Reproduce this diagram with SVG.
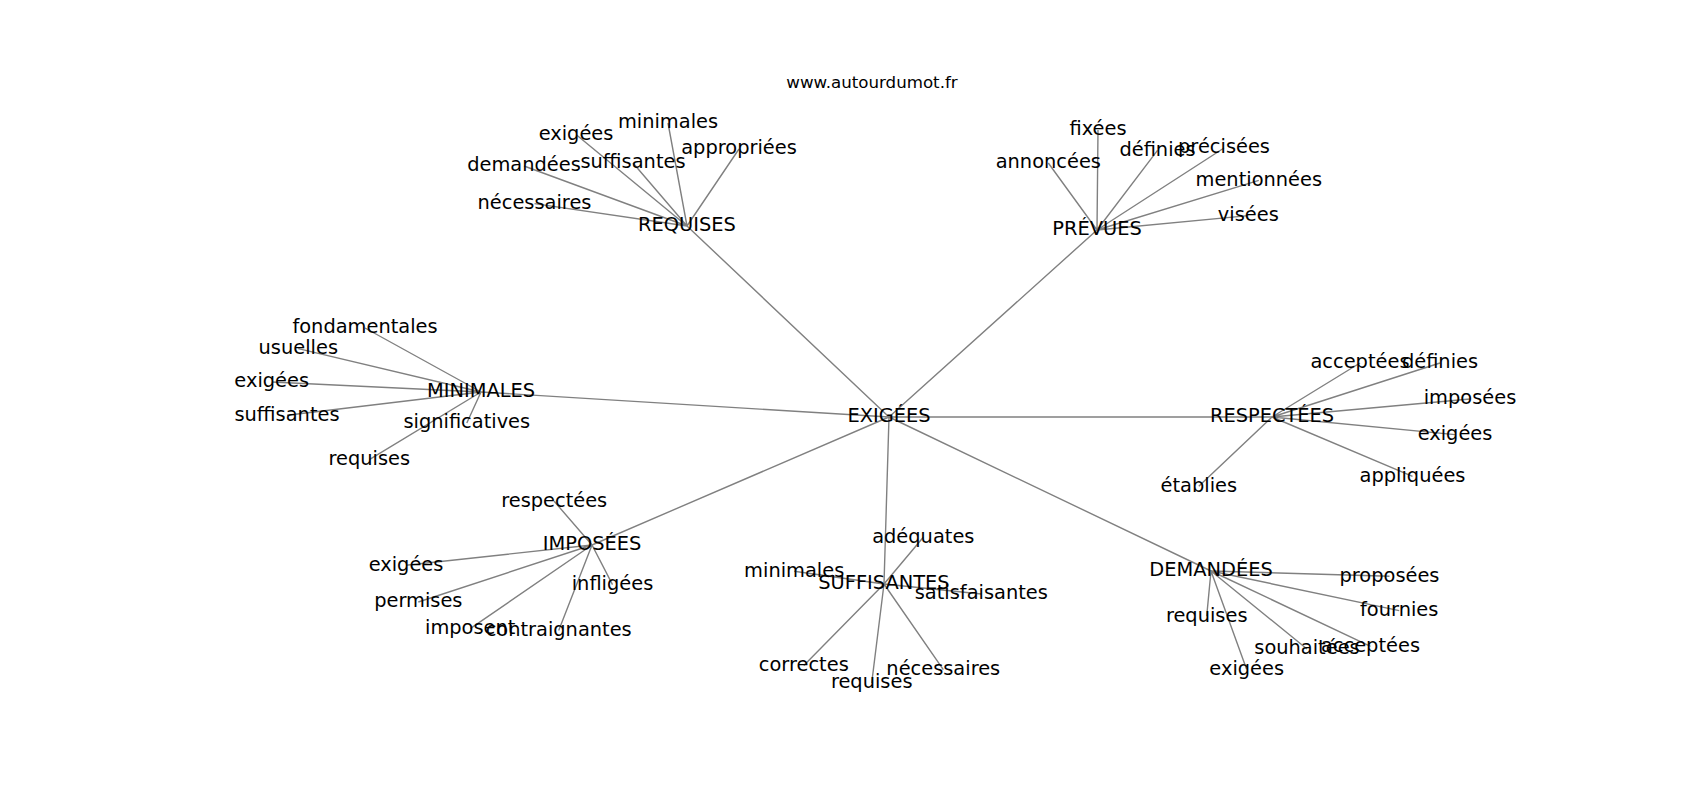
<svg xmlns="http://www.w3.org/2000/svg" width="1700" height="800" viewBox="0 0 1700 800">
<style>
.e{stroke:#808080;stroke-width:1.4;fill:none}
text{font-family:"DejaVu Sans","Liberation Sans",sans-serif;font-size:19.4px;fill:#000;text-anchor:middle}
.t{font-size:16.67px}
</style>
<rect width="1700" height="800" fill="#fff"/>
<text class="t" x="872" y="88.3">www.autourdumot.fr</text>
<g id="edges">
<path class="e" d="M889,417L687,226M889,417L1097,230M889,417L481,392M889,417L1272,417M889,417L592,545M889,417L884,584M889,417L1211,571"/>
<path class="e" d="M687,226L576,134.5M687,226L668,123M687,226L739,149M687,226L524,166M687,226L633,163M687,226L534.5,203.6"/>
<path class="e" d="M1097,230L1098,130M1097,230L1157.5,150.3M1097,230L1224,148M1097,230L1048.3,163M1097,230L1258.8,180.3M1097,230L1248.3,215.6"/>
<path class="e" d="M481,392L365,328M481,392L298.3,348.6M481,392L271.7,382M481,392L287,415.3M481,392L466.8,423M481,392L369.3,459.6"/>
<path class="e" d="M1272,417L1360,363M1272,417L1440,363M1272,417L1470,399M1272,417L1455,434.6M1272,417L1412.5,476.3M1272,417L1198.8,486.3"/>
<path class="e" d="M592,545L554.2,501.3M592,545L406,565.3M592,545L418.3,602M592,545L470.2,628.6M592,545L558.7,630.6M592,545L612.5,584.6"/>
<path class="e" d="M884,584L923.3,537.3M884,584L794.2,571.3M884,584L981.3,594M884,584L803.8,665.6M884,584L943.3,669.6M884,584L871.7,683"/>
<path class="e" d="M1211,571L1389.5,576.3M1211,571L1399.2,610.6M1211,571L1206.7,616.3M1211,571L1307,649M1211,571L1370.5,646.3M1211,571L1246.7,669.6"/>
</g>
<g id="n-exigees"><text x="889" y="422.4">EXIGÉES</text></g>
<g id="n-requises"><text x="687" y="231.4">REQUISES</text></g>
<g id="n-req-exigees"><text x="576" y="139.9">exigées</text></g>
<g id="n-req-minimales"><text x="668" y="128.4">minimales</text></g>
<g id="n-req-appropriees"><text x="739" y="154.4">appropriées</text></g>
<g id="n-req-demandees"><text x="524" y="171.4">demandées</text></g>
<g id="n-req-suffisantes"><text x="633" y="168.4">suffisantes</text></g>
<g id="n-req-necessaires"><text x="534.5" y="209">nécessaires</text></g>
<g id="n-prevues"><text x="1097" y="235.4">PRÉVUES</text></g>
<g id="n-pre-fixees"><text x="1098" y="135.4">fixées</text></g>
<g id="n-pre-definies"><text x="1157.5" y="155.7">définies</text></g>
<g id="n-pre-precisees"><text x="1224" y="153.4">précisées</text></g>
<g id="n-pre-annoncees"><text x="1048.3" y="168.4">annoncées</text></g>
<g id="n-pre-mentionnees"><text x="1258.8" y="185.7">mentionnées</text></g>
<g id="n-pre-visees"><text x="1248.3" y="221">visées</text></g>
<g id="n-minimales"><text x="481" y="397.4">MINIMALES</text></g>
<g id="n-min-fondamentales"><text x="365" y="333.4">fondamentales</text></g>
<g id="n-min-usuelles"><text x="298.3" y="354">usuelles</text></g>
<g id="n-min-exigees"><text x="271.7" y="387.4">exigées</text></g>
<g id="n-min-suffisantes"><text x="287" y="420.7">suffisantes</text></g>
<g id="n-min-significatives"><text x="466.8" y="428.4">significatives</text></g>
<g id="n-min-requises"><text x="369.3" y="465">requises</text></g>
<g id="n-respectees"><text x="1272" y="422.4">RESPECTÉES</text></g>
<g id="n-res-acceptees"><text x="1360" y="368.4">acceptées</text></g>
<g id="n-res-definies"><text x="1440" y="368.4">définies</text></g>
<g id="n-res-imposees"><text x="1470" y="404.4">imposées</text></g>
<g id="n-res-exigees"><text x="1455" y="440">exigées</text></g>
<g id="n-res-appliquees"><text x="1412.5" y="481.7">appliquées</text></g>
<g id="n-res-etablies"><text x="1198.8" y="491.7">établies</text></g>
<g id="n-imposees"><text x="592" y="550.4">IMPOSÉES</text></g>
<g id="n-imp-respectees"><text x="554.2" y="506.7">respectées</text></g>
<g id="n-imp-exigees"><text x="406" y="570.7">exigées</text></g>
<g id="n-imp-permises"><text x="418.3" y="607.4">permises</text></g>
<g id="n-imp-imposent"><text x="470.2" y="634">imposent</text></g>
<g id="n-imp-contraignantes"><text x="558.7" y="636">contraignantes</text></g>
<g id="n-imp-infligees"><text x="612.5" y="590">infligées</text></g>
<g id="n-suffisantes"><text x="884" y="589.4">SUFFISANTES</text></g>
<g id="n-suf-adequates"><text x="923.3" y="542.7">adéquates</text></g>
<g id="n-suf-minimales"><text x="794.2" y="576.7">minimales</text></g>
<g id="n-suf-satisfaisantes"><text x="981.3" y="599.4">satisfaisantes</text></g>
<g id="n-suf-correctes"><text x="803.8" y="671">correctes</text></g>
<g id="n-suf-necessaires"><text x="943.3" y="675">nécessaires</text></g>
<g id="n-suf-requises"><text x="871.7" y="688.4">requises</text></g>
<g id="n-demandees"><text x="1211" y="576.4">DEMANDÉES</text></g>
<g id="n-dem-proposees"><text x="1389.5" y="581.7">proposées</text></g>
<g id="n-dem-fournies"><text x="1399.2" y="616">fournies</text></g>
<g id="n-dem-requises"><text x="1206.7" y="621.7">requises</text></g>
<g id="n-dem-souhaitees"><text x="1307" y="654.4">souhaitées</text></g>
<g id="n-dem-acceptees"><text x="1370.5" y="651.7">acceptées</text></g>
<g id="n-dem-exigees"><text x="1246.7" y="675">exigées</text></g>
</svg>
